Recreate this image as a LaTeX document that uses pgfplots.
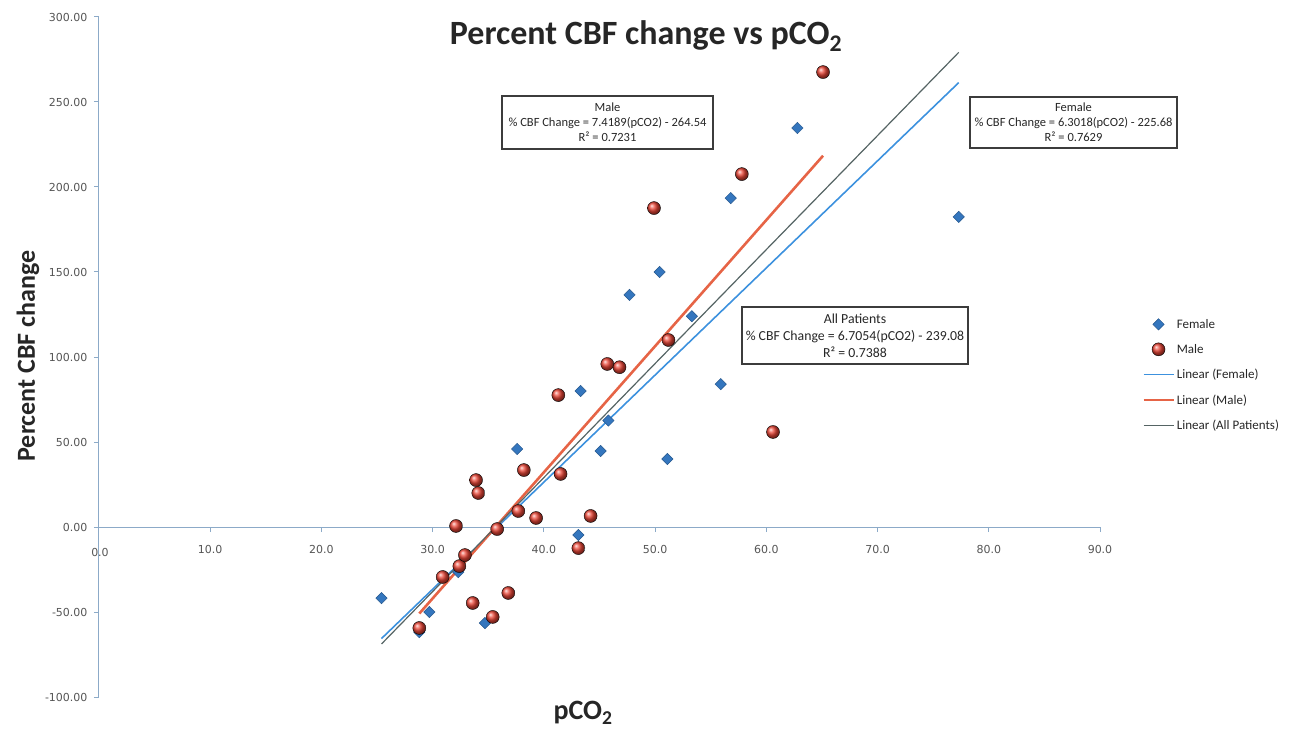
\documentclass[border=0pt]{standalone}
\usepackage{fontspec}
\setmainfont{Carlito}
\newfontfamily\tickfont{DejaVu Sans}
\usepackage{pgfplots}
\pgfplotsset{compat=1.18}
\definecolor{femcol}{RGB}{52,118,190}
\definecolor{malecol}{RGB}{235,70,55}
\definecolor{femline}{RGB}{60,145,222}
\definecolor{maleline}{RGB}{230,100,70}
\definecolor{allline}{RGB}{85,100,100}
\definecolor{axiscol}{RGB}{140,170,200}
\definecolor{tickcol}{RGB}{85,85,85}
\definecolor{txtcol}{RGB}{38,38,38}
\definecolor{boxcol}{RGB}{60,60,60}
\pgfplotsset{
  lineleg/.style={legend image code/.code={\draw[##1] (0pt,0pt) -- (30pt,0pt);}},
  markleg/.style={legend image code/.code={\draw[mark repeat=2,mark phase=2,##1] plot coordinates {(0pt,0pt) (15pt,0pt) (30pt,0pt)};}},
}

\begin{document}
\begin{tikzpicture}
\useasboundingbox (-99pt,-35pt) rectangle (1197pt,697pt);
\begin{axis}[
  scale only axis, width=1001pt, height=680pt,
  xmin=0, xmax=90, ymin=-100, ymax=300,
  axis x line*=middle, axis y line*=left,
  axis line style={axiscol, line width=1pt},
  xtick={0,10,...,90},
  xticklabels={0.0,10.0,20.0,30.0,40.0,50.0,60.0,70.0,80.0,90.0},
  ytick={-100,-50,...,300},
  yticklabels={-100.00,-50.00,0.00,50.00,100.00,150.00,200.00,250.00,300.00},
  tick style={axiscol, line width=1pt},
  tick align=outside, major tick length=5pt,
  ticklabel style={font=\tickfont\fontsize{11}{13}\selectfont, text=tickcol},
  xticklabel style={yshift=-10pt},
  yticklabel style={xshift=-3pt},
  clip=false,
  legend cell align=left,
  legend style={at={(1.039,0.562)}, anchor=north west, draw=none, fill=none,
    font=\fontsize{13}{15}\selectfont, text=txtcol, row sep=10.5pt},
  lineleg,
]
% Female
\addplot[only marks, mark=square*, mark size=4pt,
  mark options={rotate=45, fill=femcol, draw=femcol!75!black, line width=0.5pt}, markleg]
  table {
x y
25.4 -41.8
28.8 -61.8
29.7 -50.0
32.3 -26.5
34.7 -56.5
37.6 45.9
43.1 -4.7
43.3 80.0
45.1 44.7
45.8 62.6
47.7 136.5
50.4 150.0
51.1 40.0
53.3 124.0
55.9 84.0
56.8 193.5
62.8 234.7
77.3 182.4
};
\addlegendentry{Female}
% Male
\addplot[only marks, mark=ball, mark size=6.5pt, mark options={ball color=malecol}, markleg]
  table {
x y
28.8 -59.4
30.9 -29.4
32.1 0.6
32.4 -23.0
32.9 -16.5
33.6 -44.7
33.9 27.6
34.1 20.0
35.4 -52.9
35.8 -1.2
36.8 -38.8
37.7 9.4
38.2 33.5
39.3 5.3
41.3 77.6
41.5 31.2
43.1 -12.4
44.2 6.5
45.7 95.9
46.8 94.0
49.9 187.6
51.2 110.0
57.8 207.6
60.6 55.9
65.1 267.6
};
\addlegendentry{Male}
\addplot[femline, line width=1.6pt] coordinates {(25.4,-65.6) (77.3,261.4)};
\addlegendentry{Linear (Female)}
\addplot[maleline, line width=2.6pt] coordinates {(28.8,-50.9) (65.1,218.4)};
\addlegendentry{Linear (Male)}
\addplot[allline, line width=1.2pt] coordinates {(25.4,-68.8) (77.3,279.2)};
\addlegendentry{Linear (All Patients)}
\end{axis}
\node[font=\tickfont\fontsize{11}{13}\selectfont, text=tickcol] at (1pt,145pt) {0.0};
\node[font=\bfseries\fontsize{34}{40}\selectfont, text=txtcol] at (547pt,661pt) {Percent CBF change vs pCO\textsubscript{2}};
\node[font=\bfseries\fontsize{26}{30}\selectfont, text=txtcol, rotate=90] at (-71pt,341pt) {Percent CBF change};
\node[font=\bfseries\fontsize{28}{32}\selectfont, text=txtcol, inner sep=0pt] at (484pt,-16pt) {pCO\textsubscript{2}};
\node[draw=boxcol, line width=1.2pt, minimum width=211pt, minimum height=53pt, inner sep=1pt,
  align=center, font=\fontsize{12.5}{15}\selectfont, text=txtcol] at (508.5pt,574.5pt)
  {Male\\\% CBF Change = 7.4189(pCO2) - 264.54\\R² = 0.7231};
\node[draw=boxcol, line width=1.2pt, minimum width=207pt, minimum height=51pt, inner sep=1pt,
  align=center, font=\fontsize{12.5}{15}\selectfont, text=txtcol] at (974.5pt,574.5pt)
  {Female\\\% CBF Change = 6.3018(pCO2) - 225.68\\R² = 0.7629};
\node[draw=boxcol, line width=1.2pt, minimum width=226pt, minimum height=57pt, inner sep=1pt,
  align=center, font=\fontsize{13.8}{17}\selectfont, text=txtcol] at (756pt,361.5pt)
  {All Patients\\\% CBF Change = 6.7054(pCO2) - 239.08\\R² = 0.7388};
\end{tikzpicture}
\end{document}
